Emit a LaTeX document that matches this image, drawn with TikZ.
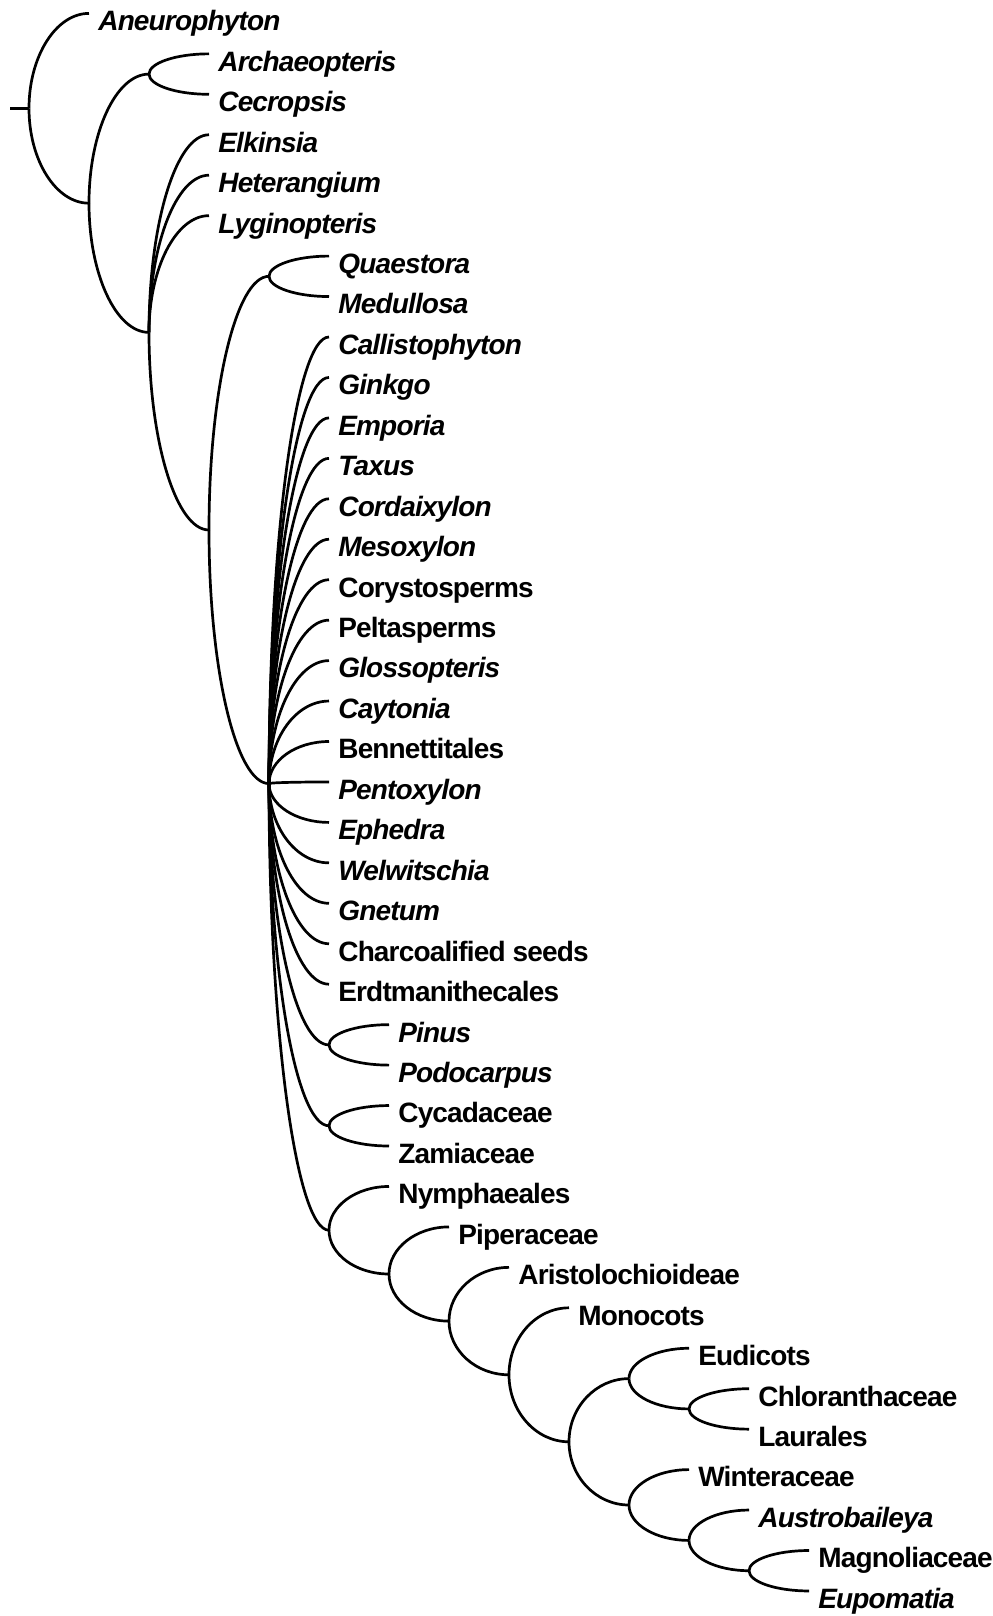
\documentclass[tikz,border=0pt]{standalone}
\usepackage{fontspec}
\setmainfont{Liberation Sans}
\newfontfamily\taxfont{Liberation Sans Bold}[ItalicFont={Liberation Sans Bold Italic}, LetterSpace=-3]
\usetikzlibrary{calc}
\newcommand{\branch}[2]{\draw (#1) .. controls ($(#1)!0.55!(#1|-#2)$) and ($(#2)!0.55!(#1|-#2)$) .. (#2);}
\tikzset{taxon/.style={anchor=north west, inner xsep=4pt, inner ysep=0pt, text height=8pt, text depth=3pt, font=\taxfont\fontsize{14}{16}\selectfont}}

\begin{document}
\begin{tikzpicture}[x=0.5pt, y=-0.5pt, line width=1.35pt]
  \useasboundingbox (0,0) rectangle (992,1616);
  % tips: row / depth / label
  \foreach \i/\d/\lbl in {0/1/\textit{Aneurophyton}, 1/3/\textit{Archaeopteris}, 2/3/\textit{Cecropsis},
      3/3/\textit{Elkinsia}, 4/3/\textit{Heterangium}, 5/3/\textit{Lyginopteris}, 6/5/\textit{Quaestora},
      7/5/\textit{Medullosa}, 8/5/\textit{Callistophyton}, 9/5/\textit{Ginkgo}, 10/5/\textit{Emporia},
      11/5/\textit{Taxus}, 12/5/\textit{Cordaixylon}, 13/5/\textit{Mesoxylon}, 14/5/Corystosperms,
      15/5/Peltasperms, 16/5/\textit{Glossopteris}, 17/5/\textit{Caytonia}, 18/5/Bennettitales,
      19/5/\textit{Pentoxylon}, 20/5/\textit{Ephedra}, 21/5/\textit{Welwitschia}, 22/5/\textit{Gnetum},
      23/5/Charcoalified seeds, 24/5/Erdtmanithecales, 25/6/\textit{Pinus}, 26/6/\textit{Podocarpus},
      27/6/Cycadaceae, 28/6/Zamiaceae, 29/6/Nymphaeales, 30/7/Piperaceae, 31/8/Aristolochioideae,
      32/9/Monocots, 33/11/Eudicots, 34/12/Chloranthaceae, 35/12/Laurales, 36/11/Winteraceae,
      37/12/\textit{Austrobaileya}, 38/13/Magnoliaceae, 39/13/\textit{Eupomatia}}
    \node[taxon] (t\i) at ({29+60*\d}, {13.4+40.45*\i}) {\lbl};
  % internal nodes
  \coordinate (stub) at (10,108.3);
  \coordinate (root) at (29,108.3);
  \coordinate (lignoph) at (89,203.2);
  \coordinate (archae) at (149,74.1);
  \coordinate (sperm) at (149,332.4);
  \coordinate (crown) at (209,530);
  \coordinate (medul) at (269,276.3);
  \coordinate (poly) at (269,783.6);
  \coordinate (conif) at (329,1044.9);
  \coordinate (cycad) at (329,1125.8);
  \coordinate (angio) at (329,1230.2);
  \coordinate (piper) at (389,1274);
  \coordinate (aristo) at (449,1321.1);
  \coordinate (monoc) at (509,1374.8);
  \coordinate (core) at (569,1441.8);
  \coordinate (eudic) at (629,1378.6);
  \coordinate (chlor) at (689,1408.9);
  \coordinate (winter) at (629,1505);
  \coordinate (austro) at (689,1540.4);
  \coordinate (magno) at (749,1570.7);
  \draw (stub) -- (root);
  \foreach \p/\c in {root/lignoph, lignoph/archae, lignoph/sperm, sperm/crown, crown/medul, crown/poly,
      poly/conif, poly/cycad, poly/angio, angio/piper, piper/aristo, aristo/monoc, monoc/core,
      core/eudic, core/winter, eudic/chlor, winter/austro, austro/magno}
    {\branch{\p}{\c}}
  \foreach \p/\i in {root/0, archae/1, archae/2, sperm/3, sperm/4, sperm/5, medul/6, medul/7,
      conif/25, conif/26, cycad/27, cycad/28, angio/29, piper/30, aristo/31, monoc/32, eudic/33,
      chlor/34, chlor/35, winter/36, austro/37, magno/38, magno/39}
    {\branch{\p}{t\i.north west}}
  \foreach \i in {8,...,24}
    {\branch{poly}{t\i.north west}}
\end{tikzpicture}
\end{document}
